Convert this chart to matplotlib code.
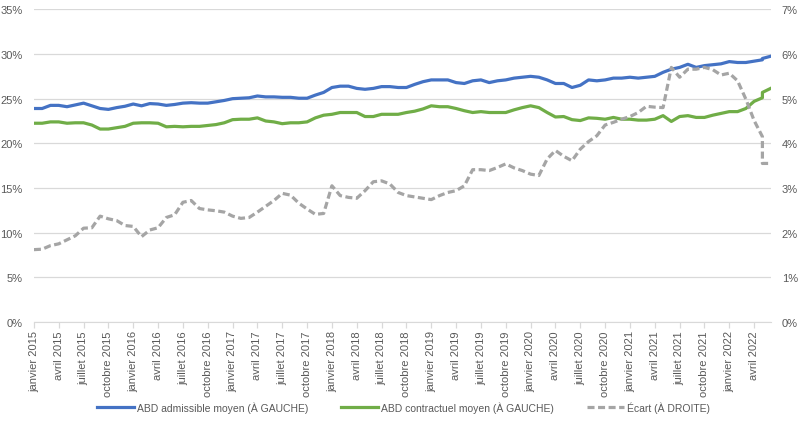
import matplotlib.pyplot as plt
import numpy as np
import pandas as pd
from matplotlib.ticker import FuncFormatter

plt.rcParams["font.family"] = ["Liberation Sans", "DejaVu Sans"]

# mois de janvier 2015 à juin 2022 ; mai 2022 apparaît deux fois dans la série
dates = list(pd.date_range("2015-01-01", "2022-06-01", freq="MS"))
dates.insert(89, pd.Timestamp("2022-05-01"))

# ABD admissible moyen (%), axe de gauche
abd_admissible = [
    23.9, 23.9, 24.25, 24.25, 24.1, 24.3, 24.5, 24.2, 23.9, 23.8,
    24.0, 24.15, 24.4, 24.2, 24.45, 24.4, 24.25, 24.35, 24.5, 24.55,
    24.5, 24.5, 24.65, 24.8, 25.0, 25.05, 25.1, 25.3, 25.2, 25.2,
    25.15, 25.15, 25.05, 25.05, 25.4, 25.7, 26.25, 26.4, 26.4, 26.15,
    26.05, 26.15, 26.35, 26.35, 26.25, 26.25, 26.6, 26.9, 27.1, 27.1,
    27.1, 26.8, 26.7, 27.0, 27.1, 26.8, 27.0, 27.1, 27.3, 27.4,
    27.5, 27.4, 27.1, 26.7, 26.7, 26.25, 26.5, 27.1, 27.0, 27.1,
    27.3, 27.3, 27.4, 27.3, 27.4, 27.5, 27.95, 28.3, 28.5, 28.85,
    28.5, 28.7, 28.8, 28.9, 29.15, 29.05, 29.05, 29.2, 29.35, 29.5, 29.75,
]

# ABD contractuel moyen (%), axe de gauche
abd_contractuel = [
    22.25, 22.25, 22.4, 22.4, 22.25, 22.3, 22.3, 22.05, 21.6, 21.6,
    21.75, 21.9, 22.25, 22.3, 22.3, 22.25, 21.85, 21.9, 21.85, 21.9,
    21.9, 22.0, 22.1, 22.3, 22.65, 22.7, 22.7, 22.85, 22.5, 22.4,
    22.2, 22.3, 22.3, 22.4, 22.85, 23.15, 23.25, 23.45, 23.45, 23.45,
    23.0, 23.0, 23.25, 23.25, 23.25, 23.45, 23.6, 23.85, 24.2, 24.1,
    24.1, 23.9, 23.65, 23.45, 23.55, 23.45, 23.45, 23.45, 23.75, 24.0,
    24.2, 24.0, 23.45, 22.95, 23.0, 22.65, 22.55, 22.85, 22.8, 22.7,
    22.9, 22.7, 22.7, 22.6, 22.6, 22.7, 23.1, 22.45, 23.0, 23.1,
    22.9, 22.9, 23.15, 23.35, 23.55, 23.55, 23.9, 24.7, 25.1, 25.7, 26.15,
]

# Écart (%), axe de droite
ecart = [
    1.62, 1.63, 1.71, 1.75, 1.84, 1.93, 2.10, 2.11, 2.37, 2.31,
    2.27, 2.16, 2.14, 1.91, 2.06, 2.11, 2.34, 2.40, 2.68, 2.72,
    2.54, 2.51, 2.49, 2.46, 2.37, 2.32, 2.34, 2.46, 2.59, 2.72,
    2.88, 2.84, 2.66, 2.53, 2.41, 2.43, 3.05, 2.83, 2.79, 2.77,
    2.94, 3.14, 3.16, 3.09, 2.90, 2.83, 2.80, 2.77, 2.74, 2.83,
    2.90, 2.94, 3.05, 3.41, 3.41, 3.39, 3.46, 3.54, 3.45, 3.39,
    3.31, 3.28, 3.65, 3.84, 3.71, 3.61, 3.87, 4.04, 4.17, 4.41,
    4.47, 4.54, 4.60, 4.69, 4.83, 4.81, 4.80, 5.70, 5.48, 5.66,
    5.66, 5.70, 5.65, 5.53, 5.57, 5.40, 4.99, 4.51, 4.15, 3.55, 3.55,
]

mois_fr = {1: "janvier", 4: "avril", 7: "juillet", 10: "octobre"}

# position en mois depuis janvier 2015
x = np.array([(d.year - 2015) * 12 + d.month - 1 for d in dates])
tick_dates = [d for d in pd.date_range("2015-01-01", "2022-06-01", freq="MS") if d.month in mois_fr]
tick_pos = [(d.year - 2015) * 12 + d.month - 1 for d in tick_dates]
tick_labels = [f"{mois_fr[d.month]} {d.year}" for d in tick_dates]

txt_color = "#595959"
grid_color = "#d9d9d9"

fig, ax = plt.subplots(figsize=(8.07, 4.31), dpi=100)
fig.subplots_adjust(left=0.042, right=0.955, top=0.976, bottom=0.2506)
ax2 = ax.twinx()

l1, = ax.plot(x, np.array(abd_admissible) / 100, color="#4472C4", lw=2.3,
              label="ABD admissible moyen (À GAUCHE)", solid_joinstyle="round")
l2, = ax.plot(x, np.array(abd_contractuel) / 100, color="#70AD47", lw=2.3,
              label="ABD contractuel moyen (À GAUCHE)", solid_joinstyle="round")
l3, = ax2.plot(x, np.array(ecart) / 100, color="#A5A5A5", lw=2.3, dashes=(2.2, 1.1),
               label="Écart (À DROITE)")

ax.set_ylim(0, 0.35)
ax.set_yticks(np.arange(0, 0.351, 0.05))
ax2.set_ylim(0, 0.07)
ax2.set_yticks(np.arange(0, 0.0701, 0.01))
pct = FuncFormatter(lambda v, p: f"{v * 100:.0f}%")
ax.yaxis.set_major_formatter(pct)
ax2.yaxis.set_major_formatter(pct)

ax.set_xlim(x[0], x[-1])
ax.set_xticks(tick_pos)
ax.set_xticklabels(tick_labels, rotation=90)

ax.grid(axis="y", color=grid_color, lw=0.9)
ax.set_axisbelow(True)
for a in (ax, ax2):
    for s in ("top", "left", "right"):
        a.spines[s].set_visible(False)
    a.spines["bottom"].set_color(grid_color)
ax2.spines["bottom"].set_visible(False)

ax.tick_params(axis="x", colors=txt_color, labelsize=8, length=4, width=0.9,
               color=grid_color, pad=2)
ax.tick_params(axis="y", colors=txt_color, labelsize=8, length=0, pad=8)
ax2.tick_params(axis="y", colors=txt_color, labelsize=8, length=0, pad=8)

fig.legend(handles=[l1, l2, l3], loc="center", bbox_to_anchor=(0.5, 0.053), ncol=3,
           frameon=False, fontsize=7.5, labelcolor=txt_color, handlelength=3.5,
           handletextpad=0.3, columnspacing=3.2)

fig.savefig("out.png", dpi=100)
